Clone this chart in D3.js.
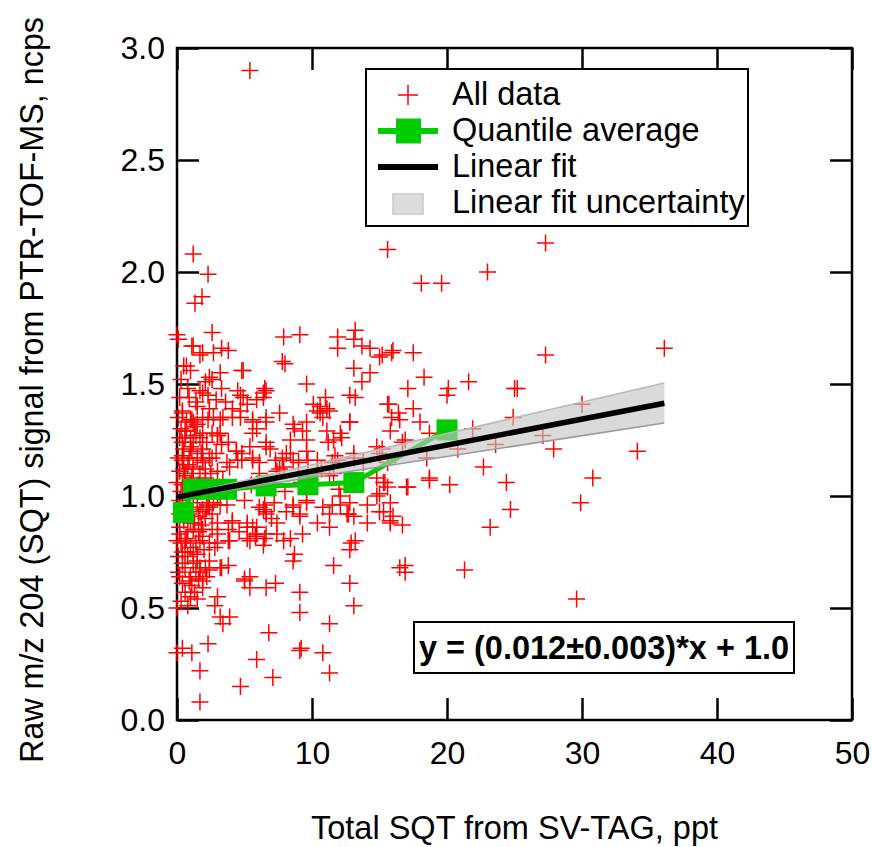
<!DOCTYPE html>
<html>
<head>
<meta charset="utf-8">
<script src="https://cdn.jsdelivr.net/npm/d3@7"></script>
<style>
  body { margin: 0; background: #fff; }
  text { font-family: Arial, "Liberation Sans", sans-serif; }
</style>
</head>
<body>
<svg></svg>
<script>
const width = 872;
const height = 847;

// axis ticks
const xTicks = [0, 10, 20, 30, 40, 50];
const yTicks = [0, 0.5, 1.0, 1.5, 2.0, 2.5, 3.0];

// all data: [SQT ppt, raw signal ncps]
const allData = [
  [5.4,2.90],[1.2,2.08],[2.3,1.99],[1.85,1.89],[1.33,1.86],[15.6,2.10],[27.3,2.13],[18.1,1.95],[19.6,1.95],[23.0,2.00],
  [2.6,1.73],[0.1,1.70],[1.1,1.67],[1.7,1.63],[2.7,1.64],[3.3,1.66],[3.8,1.65],[0.5,1.58],[1.0,1.56],[4.9,1.56],
  [3.2,1.55],[2.4,1.53],[2.1,1.51],[0.2,1.44],[1.9,1.46],[3.3,1.48],[4.5,1.47],[5.9,1.43],[6.6,1.47],[5.2,1.41],
  [1.2,1.67],[1.9,1.64],[0.7,1.58],[4.8,1.56],[2.6,1.52],[1.7,1.47],[4.7,1.45],[6.4,1.46],[0.0,1.72],[0.3,1.52],
  [0.8,1.48],[1.4,1.42],[2.9,1.43],[3.6,1.42],
  [7.9,1.71],[9.1,1.72],[7.8,1.60],[8.0,1.59],[11.9,1.71],[11.9,1.66],[13.2,1.74],[13.1,1.70],[13.7,1.67],[14.3,1.66],
  [15.0,1.62],[15.9,1.64],[13.1,1.57],[14.3,1.55],[13.7,1.51],[9.6,1.50],[11.0,1.44],[10.6,1.40],[12.8,1.45],[13.2,1.44],
  [15.6,1.41],[11.1,1.39],[11.3,1.38],[10.4,1.38],[10.1,1.41],[6.5,1.48],[6.4,1.44],[4.9,1.44],[4.1,1.39],[16.0,1.65],
  [15.2,1.63],[17.5,1.64],[18.3,1.53],[17.1,1.48],[20.1,1.48],[21.6,1.51],[25.0,1.48],[20.0,1.45],[15.7,1.41],[17.5,1.39],
  [27.3,1.63],[36.1,1.66],[25.2,1.48],
  [15.9,1.35],[15.8,1.29],[12.8,1.33],[12.1,1.28],[10.8,1.35],[6.6,1.33],[8.7,1.30],[8.6,1.32],[9.3,1.29],[9.6,1.25],
  [8.4,1.25],[6.6,1.24],[5.6,1.28],[5.9,1.30],[5.4,1.22],[4.4,1.20],[3.8,1.24],[3.0,1.27],[2.6,1.28],[2.3,1.34],
  [1.9,1.35],[2.7,1.35],[0.4,1.37],[1.1,1.34],[1.3,1.31],[0.7,1.29],[0.6,1.26],[1.2,1.24],[1.7,1.26],[1.0,1.22],
  [3.2,1.28],[3.3,1.23],[12.2,1.26],[0.4,1.38],[2.4,1.39],[1.0,1.34],[1.5,1.32],[0.6,1.29],[3.2,1.34],[4.1,1.35],
  [4.7,1.38],[5.6,1.34],[6.6,1.35],[1.9,1.28],[3.0,1.27],[1.0,1.26],[0.4,1.24],[1.9,1.21],[1.1,1.20],[4.4,1.20],
  [6.6,1.22],[1.2,1.33],[3.4,1.35],[4.7,1.35],[5.6,1.33],[7.6,1.37],[9.6,1.33],[10.6,1.37],[11.1,1.29],[11.6,1.25],
  [12.8,1.33],[14.8,1.22],[16.7,1.24],[16.4,1.37],[16.5,1.34],[18.0,1.33],[16.9,1.25],[18.7,1.28],[21.9,1.30],[24.9,1.35],
  [30.0,1.41],[27.1,1.27],[23.6,1.23],[27.9,1.21],[34.1,1.20],[20.8,1.21],[15.2,1.21],[4.8,1.19],
  [5.6,1.17],[4.5,1.16],[3.7,1.15],[0.4,1.18],[1.5,1.17],[1.9,1.16],[1.2,1.13],[0.6,1.10],[1.7,1.10],[2.4,1.17],
  [7.3,1.16],[7.8,1.17],[7.9,1.13],[8.4,1.19],[9.0,1.15],[9.7,1.16],[7.4,1.11],[11.5,1.15],[11.7,1.18],[13.1,1.17],
  [15.0,1.19],[15.6,1.15],[15.3,1.06],[15.0,1.01],[10.7,1.12],[11.3,1.09],[2.6,1.17],[0.4,1.16],[1.9,1.15],[4.8,1.16],
  [6.1,1.15],[1.2,1.12],[2.1,1.12],[3.0,1.11],[0.6,1.09],[0.0,1.06],[5.6,1.16],[6.9,1.21],[8.1,1.19],[8.6,1.16],
  [9.6,1.20],[10.4,1.16],[11.2,1.24],[11.9,1.16],[13.1,1.19],[13.8,1.15],[11.6,1.10],[10.4,1.10],[7.6,1.12],[6.1,1.10],
  [14.8,1.08],[18.5,1.17],[22.7,1.13],[18.7,1.08],[17.0,1.04],[15.4,1.06],[20.2,1.05],[24.4,1.06],[30.8,1.08],[18.7,1.07],
  [17.1,1.04],[15.6,1.04],[0.3,1.02],[1.0,1.05],[2.0,1.04],[3.4,1.07],[4.3,1.03],[5.5,1.05],[8.0,1.02],[9.2,1.06],
  [12.0,1.03],[0.8,1.14],[2.9,1.19],[3.9,1.13],[0.2,1.11],
  [1.5,0.97],[2.3,0.96],[3.2,0.96],[6.5,0.96],[8.6,0.96],[9.6,0.97],[11.5,0.96],[12.8,0.97],[14.1,0.96],[0.2,0.98],
  [1.9,0.94],[2.4,0.95],[1.6,0.91],[0.4,0.97],[2.2,0.95],[2.7,0.97],[1.7,0.93],[2.6,0.92],[3.7,0.96],[4.1,0.89],
  [6.6,0.93],[6.6,0.92],[6.4,0.94],[8.1,0.93],[8.6,0.95],[9.1,0.92],[10.8,0.95],[11.3,0.92],[12.1,0.96],[12.7,0.92],
  [13.1,0.91],[15.0,0.93],[15.8,0.97],[6.1,0.95],[9.6,0.98],[12.1,1.00],[14.8,1.00],[16.0,0.91],[9.1,0.91],[12.6,0.92],
  [15.3,0.93],[29.9,0.97],[24.7,0.94],[0.9,0.99],[3.0,0.99],[5.0,0.98],[7.2,0.97],[0.6,0.93],[1.2,0.95],
  [1.0,0.88],[1.9,0.85],[3.0,0.88],[4.1,0.88],[3.8,0.85],[0.2,0.83],[0.7,0.81],[1.7,0.80],[2.4,0.79],[3.9,0.80],
  [5.2,0.88],[5.9,0.86],[7.4,0.88],[0.2,0.86],[1.2,0.85],[1.9,0.82],[3.0,0.83],[3.8,0.80],[5.2,0.81],[5.8,0.82],
  [6.6,0.83],[0.0,0.80],[0.6,0.75],[1.5,0.74],[2.4,0.71],[0.4,0.75],[0.8,0.73],[1.2,0.75],[1.5,0.71],[8.6,0.71],
  [8.7,0.74],[9.3,0.83],[8.4,0.81],[7.9,0.80],[5.4,0.80],[5.9,0.83],[5.6,0.86],[6.5,0.81],[6.4,0.78],[7.4,0.83],
  [5.2,0.86],[3.0,0.79],[1.0,0.77],[11.6,0.69],[12.8,0.76],[12.9,0.79],[11.3,0.86],[10.4,0.88],[14.1,0.88],[15.8,0.88],
  [15.8,0.89],[16.7,0.87],[23.2,0.86],[13.2,0.80],[2.8,0.77],[4.6,0.84],[7.0,0.90],
  [0.4,0.70],[0.2,0.64],[1.0,0.64],[1.7,0.66],[2.1,0.68],[2.4,0.67],[3.2,0.68],[3.8,0.69],[0.4,0.61],[1.1,0.60],
  [1.6,0.63],[1.9,0.59],[0.6,0.57],[1.0,0.55],[1.5,0.54],[0.0,0.50],[0.8,0.51],[3.0,0.55],[2.8,0.51],[1.7,0.68],
  [3.3,0.68],[0.1,0.66],[1.9,0.62],[5.0,0.63],[6.6,0.59],[5.4,0.64],[5.0,0.62],[5.4,0.59],[7.3,0.61],[9.1,0.57],
  [12.8,0.61],[13.1,0.51],[16.5,0.68],[16.9,0.69],[16.9,0.66],[21.3,0.67],[29.6,0.54],[0.3,0.53],[1.3,0.57],
  [9.1,0.48],[3.2,0.46],[3.9,0.46],[3.4,0.43],[2.3,0.34],[0.4,0.32],[0.0,0.30],[1.1,0.30],[1.7,0.22],[1.7,0.08],
  [4.7,0.15],[5.9,0.27],[7.1,0.19],[6.8,0.39],[9.1,0.31],[10.8,0.30],[11.3,0.43],[11.3,0.21],[9.2,0.32],
  [0.3,1.30],[0.5,1.21],[0.9,1.17],[1.4,1.27],[1.8,1.19],[2.2,1.24],[0.2,1.26],[0.7,1.33],[1.1,1.08],[1.6,1.05],
  [2.1,1.08],[0.5,1.12],[0.9,0.92],[1.3,0.88],[1.8,0.87],[2.1,0.90],[0.5,0.89],[0.3,0.79],[0.8,0.84],[1.4,0.79],
  [2.0,0.76],[0.6,0.68],[1.2,0.70],[2.2,0.64],[0.9,0.62],[1.4,0.66],[0.1,0.73],[0.2,0.92],[1.0,1.02],[0.1,1.17],
  [2.5,1.10],[2.8,1.03],[1.5,1.40],[0.9,1.44],[0.1,1.35],[2.3,1.45],[0.6,0.80],[1.6,0.84],[2.6,0.85],[0.4,1.05]
];

// quantile average
const quantX = [0.48, 1.22, 2.44, 3.67, 6.6, 9.7, 13.1, 20.0];
const quantY = [0.926, 1.03, 1.03, 1.03, 1.045, 1.05, 1.06, 1.295];

// linear fit and its uncertainty band
const fitSlope = 0.0116;
const fitIntercept = 0.995;
const fitX = [0, 36.1];
const bandLow = [0.99, 1.326];
const bandHigh = [1.0, 1.504];

const legendLabels = ["All data", "Quantile average", "Linear fit", "Linear fit uncertainty"];
const equationText = "y = (0.012\u00b10.003)*x + 1.0";

const plotLeft = 177, plotRight = 852, plotTop = 48, plotBottom = 720;
const tickLen = 22;
const fontSize = 32.5;

const svg = d3.select("svg")
  .attr("width", width)
  .attr("height", height);

const xScale = d3.scaleLinear().domain([0, 50]).range([plotLeft, plotRight]);
const yScale = d3.scaleLinear().domain([0, 3]).range([plotBottom, plotTop]);

// axes on all four sides, ticks pointing inward
function styleAxis(g) {
  g.select(".domain").remove();
  g.selectAll(".tick line").attr("stroke", "#000").attr("stroke-width", 2.5);
  g.selectAll(".tick text").attr("font-size", 32).attr("fill", "#000")
    .style("font-family", "Arial, 'Liberation Sans', sans-serif");
}

svg.append("g")
  .attr("transform", `translate(0,${plotBottom})`)
  .call(d3.axisBottom(xScale).tickValues(xTicks).tickFormat(d3.format("d"))
    .tickSizeInner(-tickLen).tickSizeOuter(0).tickPadding(21))
  .call(styleAxis);

svg.append("g")
  .attr("transform", `translate(0,${plotTop})`)
  .call(d3.axisTop(xScale).tickValues(xTicks).tickFormat("")
    .tickSizeInner(-tickLen).tickSizeOuter(0))
  .call(styleAxis);

svg.append("g")
  .attr("transform", `translate(${plotLeft},0)`)
  .call(d3.axisLeft(yScale).tickValues(yTicks).tickFormat(d3.format(".1f"))
    .tickSizeInner(-tickLen).tickSizeOuter(0).tickPadding(12))
  .call(styleAxis);

svg.append("g")
  .attr("transform", `translate(${plotRight},0)`)
  .call(d3.axisRight(yScale).tickValues(yTicks).tickFormat("")
    .tickSizeInner(-tickLen).tickSizeOuter(0))
  .call(styleAxis);

// frame
svg.append("rect")
  .attr("x", plotLeft).attr("y", plotTop)
  .attr("width", plotRight - plotLeft).attr("height", plotBottom - plotTop)
  .attr("fill", "none")
  .attr("stroke", "#000")
  .attr("stroke-width", 2.5);

// axis titles
svg.append("text")
  .attr("x", (plotLeft + plotRight) / 2)
  .attr("y", 839)
  .attr("text-anchor", "middle")
  .attr("font-size", fontSize)
  .text("Total SQT from SV-TAG, ppt");

svg.append("text")
  .attr("transform", "translate(43,390) rotate(-90)")
  .attr("text-anchor", "middle")
  .attr("font-size", 33)
  .attr("textLength", 746)
  .attr("lengthAdjust", "spacingAndGlyphs")
  .text("Raw m/z 204 (SQT) signal from PTR-TOF-MS, ncps");

// red crosses
const cross = 8.5;
svg.append("g")
  .selectAll("path")
  .data(allData)
  .enter()
  .append("path")
  .attr("d", d => {
    const cx = xScale(d[0]), cy = yScale(d[1]);
    return `M${cx - cross},${cy}H${cx + cross}M${cx},${cy - cross}V${cy + cross}`;
  })
  .attr("stroke", "#ff0000")
  .attr("stroke-width", 1.5)
  .attr("fill", "none");

// quantile average
const quant = quantX.map((x, i) => [x, quantY[i]]);
svg.append("path")
  .datum(quant)
  .attr("d", d3.line().x(d => xScale(d[0])).y(d => yScale(d[1])))
  .attr("fill", "none")
  .attr("stroke", "#00cc00")
  .attr("stroke-width", 5);

const sq = 21;
svg.append("g")
  .selectAll("rect")
  .data(quant)
  .enter()
  .append("rect")
  .attr("x", d => xScale(d[0]) - sq / 2)
  .attr("y", d => yScale(d[1]) - sq / 2)
  .attr("width", sq)
  .attr("height", sq)
  .attr("fill", "#00cc00");

// uncertainty band
const band = fitX.map((x, i) => [x, bandLow[i], bandHigh[i]]);
svg.append("path")
  .datum(band)
  .attr("d", d3.area().x(d => xScale(d[0])).y0(d => yScale(d[1])).y1(d => yScale(d[2])))
  .attr("fill", "#c4c4c4")
  .attr("fill-opacity", 0.62);

svg.append("path")
  .datum(band)
  .attr("d", d3.line().x(d => xScale(d[0])).y(d => yScale(d[2])))
  .attr("fill", "none").attr("stroke", "#b8b8b8").attr("stroke-width", 1.5);

svg.append("path")
  .datum(band)
  .attr("d", d3.line().x(d => xScale(d[0])).y(d => yScale(d[1])))
  .attr("fill", "none").attr("stroke", "#999").attr("stroke-width", 1.5);

// linear fit
svg.append("path")
  .datum(fitX)
  .attr("d", d3.line().x(d => xScale(d)).y(d => yScale(fitIntercept + fitSlope * d)))
  .attr("fill", "none")
  .attr("stroke", "#000")
  .attr("stroke-width", 5.5);

// legend
const legend = svg.append("g");
legend.append("rect")
  .attr("x", 366).attr("y", 69)
  .attr("width", 382).attr("height", 157)
  .attr("fill", "#fff")
  .attr("stroke", "#000")
  .attr("stroke-width", 2);

const rowY = [95, 131, 167, 203];
legend.selectAll("text")
  .data(legendLabels)
  .enter()
  .append("text")
  .attr("x", 452)
  .attr("y", (d, i) => rowY[i] + 10)
  .attr("font-size", fontSize)
  .text(d => d);

legend.append("path")
  .attr("d", `M${398},${rowY[0]}H${418}M${408},${rowY[0] - 10}V${rowY[0] + 10}`)
  .attr("stroke", "#ff0000").attr("stroke-width", 1.5);

legend.append("line")
  .attr("x1", 378).attr("x2", 438).attr("y1", rowY[1]).attr("y2", rowY[1])
  .attr("stroke", "#00cc00").attr("stroke-width", 6);
legend.append("rect")
  .attr("x", 396).attr("y", rowY[1] - 12.5).attr("width", 25).attr("height", 25)
  .attr("fill", "#00cc00");

legend.append("line")
  .attr("x1", 378).attr("x2", 438).attr("y1", rowY[2]).attr("y2", rowY[2])
  .attr("stroke", "#000").attr("stroke-width", 6);

legend.append("rect")
  .attr("x", 393).attr("y", rowY[3] - 9).attr("width", 30).attr("height", 20)
  .attr("fill", "#dcdcdc").attr("stroke", "#c8c8c8").attr("stroke-width", 1.5);

// equation box
svg.append("rect")
  .attr("x", 414).attr("y", 622)
  .attr("width", 380).attr("height", 51)
  .attr("fill", "#fff")
  .attr("stroke", "#000")
  .attr("stroke-width", 2);

svg.append("text")
  .attr("x", 604)
  .attr("y", 659)
  .attr("text-anchor", "middle")
  .attr("font-size", fontSize)
  .attr("font-weight", "bold")
  .text(equationText);
</script>
</body>
</html>
